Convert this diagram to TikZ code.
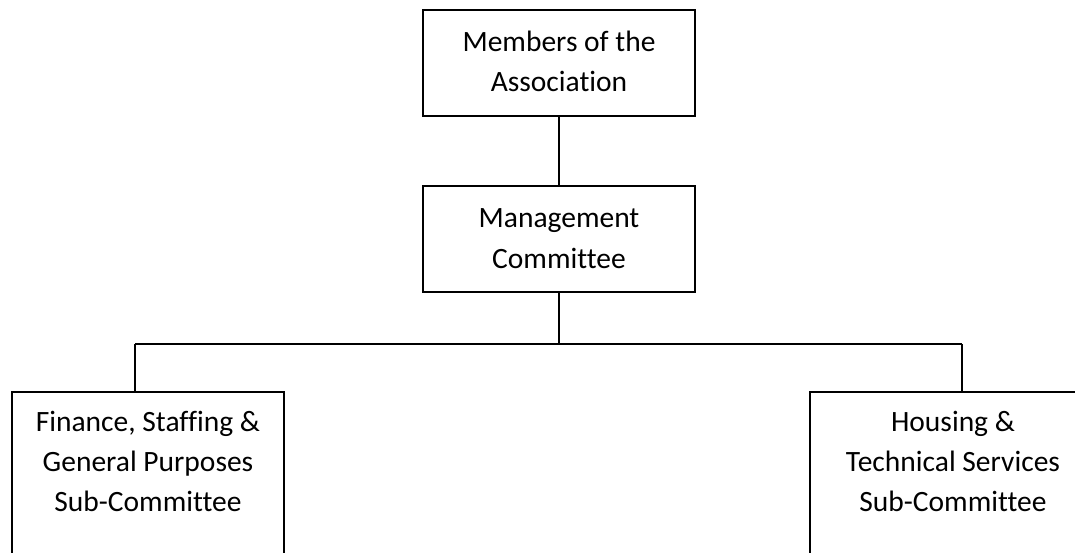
\documentclass[tikz,border=0pt]{standalone}
\usepackage{fontspec}
\setmainfont[Ligatures=NoCommon]{Carlito}
\begin{document}
\begin{tikzpicture}[x=1pt,y=-1pt,
  orgbox/.style={draw, line width=1.5pt, inner xsep=0pt, inner ysep=0pt,
    font=\fontsize{29.5}{40}\selectfont, align=center, text height=19pt},
  link/.style={line width=1.4pt}]
\useasboundingbox (0,0) rectangle (1075,553);
\clip (0,0) rectangle (1075,553);
\node[orgbox, minimum width=272pt, minimum height=106pt, text depth=41pt] (members) at (559,63)
  {\begin{tabular}[t]{@{}c@{}}Members of the\\Association\end{tabular}};
\node[orgbox, minimum width=272pt, minimum height=106pt, text depth=41pt] (mgmt) at (559,239)
  {\begin{tabular}[t]{@{}c@{}}Management\\Committee\end{tabular}};
\node[orgbox, anchor=north, minimum width=272pt, inner ysep=21pt, text depth=200pt] (fin) at (148,391)
  {\begin{tabular}[t]{@{}c@{}}Finance, Staffing \&\\General Purposes\\Sub-Committee\end{tabular}};
\node[orgbox, anchor=north, minimum width=286pt, inner ysep=21pt, text depth=200pt] (hts) at (953,391)
  {\begin{tabular}[t]{@{}c@{}}Housing \&\\Technical Services\\Sub-Committee\end{tabular}};
\coordinate (hub) at (mgmt.south |- 0,344);
\coordinate (barL) at (135,344);
\coordinate (barR) at (962,344);
\draw[link] (members.south) -- (mgmt.north);
\draw[link] (mgmt.south) -- (hub);
\draw[link] (barL) -- (barR);
\draw[link] (barL) -- (barL |- fin.north);
\draw[link] (barR) -- (barR |- hts.north);
\end{tikzpicture}
\end{document}
